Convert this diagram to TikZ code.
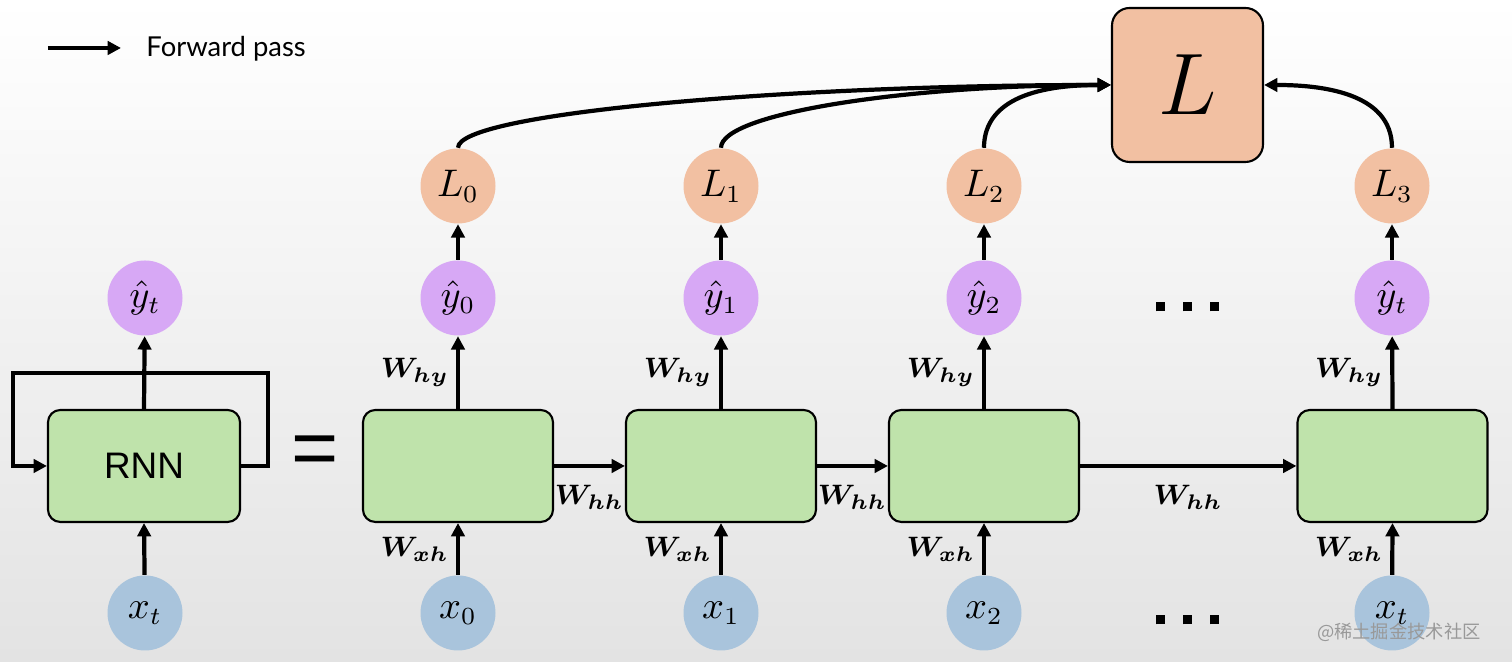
\documentclass[tikz,border=0pt]{standalone}
\usepackage{fontspec}
\setsansfont{Liberation Sans}
\newfontfamily\legendfont{Lato}
\newfontfamily\cjkfont{Noto Sans CJK SC}
\usepackage{amsmath}
\usepackage{bm}
\usetikzlibrary{arrows.meta}

\definecolor{cellgreen}{RGB}{191,227,171}
\definecolor{outpurple}{RGB}{215,168,245}
\definecolor{losspeach}{RGB}{242,192,162}
\definecolor{inblue}{RGB}{169,196,220}

\newcommand{\Wlab}[1]{\(\bm{W}_{\bm{#1}}\)}

\begin{document}
\begin{tikzpicture}[
    >={Triangle[length=3.8pt,width=3.8pt]},
    flow/.style={->,line width=1.2pt},
    cell/.style={draw,line width=0.6pt,rounded corners=3.5pt,fill=cellgreen,
        minimum width=1.9cm,minimum height=1.12cm,inner sep=0pt},
    bubble/.style={circle,minimum size=0.75cm,inner sep=0pt,font=\fontsize{10.5}{12}\selectfont},
    yhat/.style={bubble,fill=outpurple},
    loss/.style={bubble,fill=losspeach},
    xin/.style={bubble,fill=inblue},
    wlabel/.style={font=\fontsize{8}{9}\selectfont,inner sep=2pt},
    dotrow/.style={inner sep=0pt}
]
    % background
    \useasboundingbox (0,0) rectangle (15.12,6.62);
    \shade[top color=white,middle color=white,bottom color=black!11] (0,0) rectangle (15.12,6.62);

    % legend
    \coordinate (legstart) at (0.48,6.14);
    \coordinate (legend) at (1.21,6.14);
    \node[anchor=west,font=\legendfont\fontsize{7.8}{9}\selectfont] (legtext) at (1.34,6.13) {Forward pass};
    \draw[flow] (legstart) -- (legend);

    % folded RNN
    \node[cell,minimum width=1.92cm,font=\sffamily\fontsize{10.5}{12}\selectfont] (rnn) at (1.44,1.96) {RNN};
    \node[yhat] (yt) at (1.45,3.64) {\(\hat{y}_t\)};
    \node[xin] (xt) at (1.45,0.49) {\(x_t\)};
    \draw[flow] (rnn.north) -- (yt);
    \draw[flow] (xt) -- (rnn.south);
    \draw[flow] (rnn.east) -- ++(0.27,0) |- ++(-2.55,0.93) -- ++(0,-0.93) -- (rnn.west);
    \node[font=\sffamily\fontsize{23}{24}\selectfont] (eq) at (3.155,2.06) {=};

    % unrolled cells
    \node[cell] (h0) at (4.58,1.96) {};
    \node[cell] (h1) at (7.21,1.96) {};
    \node[cell] (h2) at (9.84,1.96) {};
    \node[cell] (ht) at (13.925,1.96) {};

    \node[yhat] (y0) at (4.58,3.64) {\(\hat{y}_0\)};
    \node[yhat] (y1) at (7.21,3.64) {\(\hat{y}_1\)};
    \node[yhat] (y2) at (9.84,3.64) {\(\hat{y}_2\)};
    \node[yhat] (yT) at (13.92,3.64) {\(\hat{y}_t\)};

    \node[loss] (L0) at (4.58,4.76) {\(L_0\)};
    \node[loss] (L1) at (7.21,4.76) {\(L_1\)};
    \node[loss] (L2) at (9.84,4.76) {\(L_2\)};
    \node[loss] (L3) at (13.92,4.76) {\(L_3\)};

    \node[xin] (x0) at (4.58,0.49) {\(x_0\)};
    \node[xin] (x1) at (7.21,0.49) {\(x_1\)};
    \node[xin] (x2) at (9.84,0.49) {\(x_2\)};
    \node[xin] (xT) at (13.92,0.49) {\(x_t\)};

    \node[draw,line width=0.6pt,rounded corners=5pt,fill=losspeach,minimum width=1.51cm,
        minimum height=1.54cm,inner sep=0pt,font=\fontsize{31}{36}\selectfont] (L) at (11.875,5.77) {\(L\)};

    \node[dotrow] (dotsup) at (11.87,3.55) {\rule{0.09cm}{0.09cm}\hspace{0.18cm}\rule{0.09cm}{0.09cm}\hspace{0.18cm}\rule{0.09cm}{0.09cm}};
    \node[dotrow] (dotsdown) at (11.87,0.42) {\rule{0.09cm}{0.09cm}\hspace{0.18cm}\rule{0.09cm}{0.09cm}\hspace{0.18cm}\rule{0.09cm}{0.09cm}};

    % connections
    \draw[flow] (h0.north) -- node[wlabel,left] {\Wlab{hy}} (y0);
    \draw[flow] (h1.north) -- node[wlabel,left] {\Wlab{hy}} (y1);
    \draw[flow] (h2.north) -- node[wlabel,left] {\Wlab{hy}} (y2);
    \draw[flow] (ht.north) -- node[wlabel,left] {\Wlab{hy}} (yT);

    \draw[flow] (x0) -- node[wlabel,left] {\Wlab{xh}} (h0.south);
    \draw[flow] (x1) -- node[wlabel,left] {\Wlab{xh}} (h1.south);
    \draw[flow] (x2) -- node[wlabel,left] {\Wlab{xh}} (h2.south);
    \draw[flow] (xT) -- node[wlabel,left] {\Wlab{xh}} (ht.south);

    \draw[flow] (h0) -- node[wlabel,below,yshift=-0.1cm] {\Wlab{hh}} (h1);
    \draw[flow] (h1) -- node[wlabel,below,yshift=-0.1cm] {\Wlab{hh}} (h2);
    \draw[flow] (h2) -- node[wlabel,below,yshift=-0.1cm] {\Wlab{hh}} (ht);

    \draw[flow] (y0) -- (L0);
    \draw[flow] (y1) -- (L1);
    \draw[flow] (y2) -- (L2);
    \draw[flow] (yT) -- (L3);

    \draw[flow] (L0.north) to[out=90,in=180,out distance=0.35cm,in distance=3.2cm] (L.west);
    \draw[flow] (L1.north) to[out=90,in=180,out distance=0.35cm,in distance=2cm] (L.west);
    \draw[flow] (L2.north) to[out=90,in=180,out distance=0.4cm,in distance=0.9cm] (L.west);
    \draw[flow] (L3.north) to[out=90,in=0] (L.east);

    % watermark
    \node[anchor=east,text=black!40,font=\cjkfont\fontsize{5.2}{6}\selectfont] (mark) at (14.93,0.30) {@稀土掘金技术社区};
\end{tikzpicture}
\end{document}
